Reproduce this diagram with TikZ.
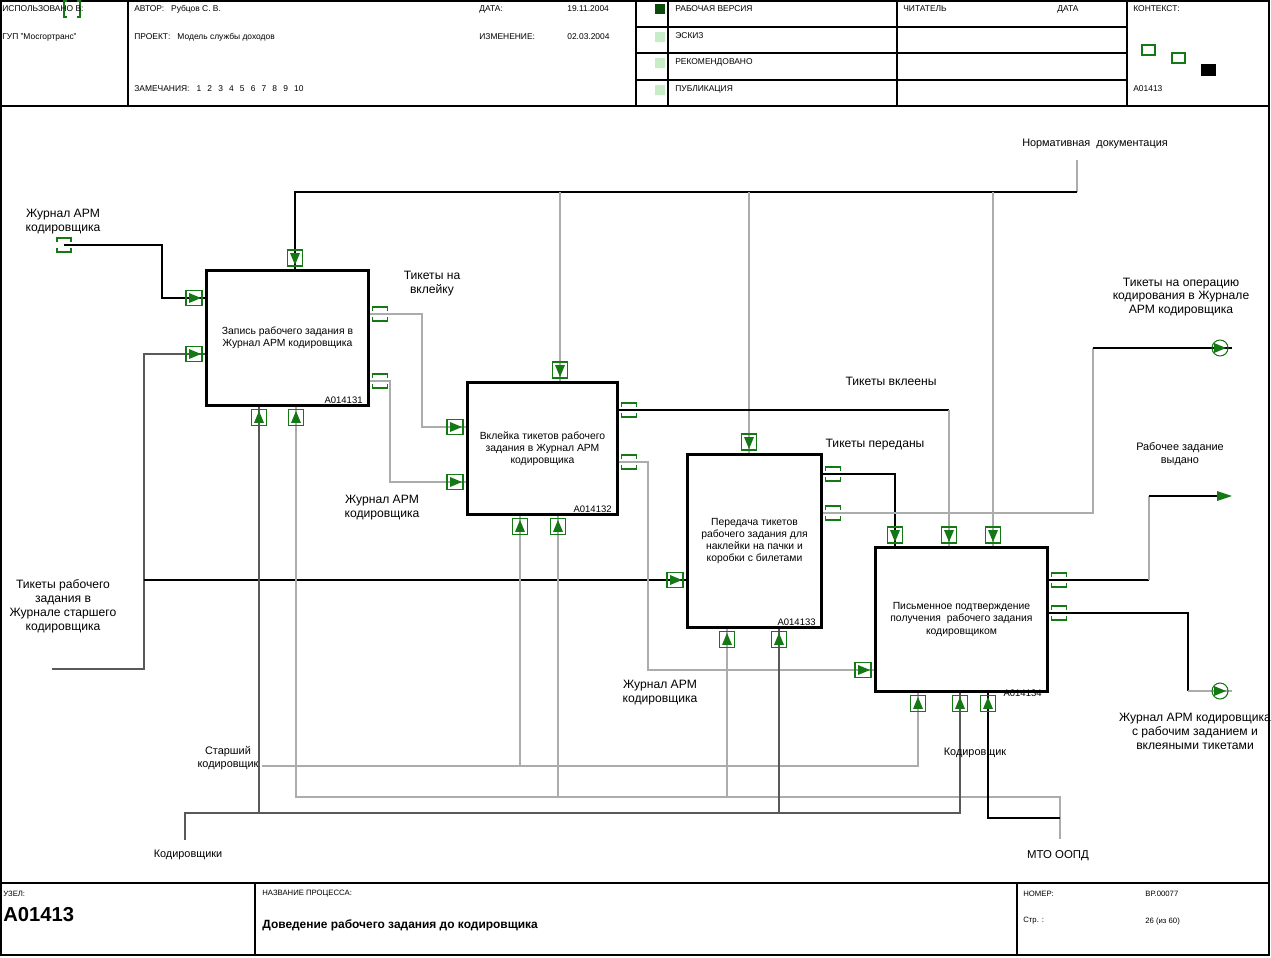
\documentclass[tikz,border=0pt]{standalone}
\usepackage{fontspec}
\setmainfont{Liberation Sans}
\usetikzlibrary{arrows.meta,positioning,backgrounds}
\definecolor{idefgreen}{RGB}{20,120,20}
\definecolor{statdark}{RGB}{10,75,10}
\definecolor{statlight}{RGB}{200,236,200}

\begin{document}
\begin{tikzpicture}[
  x=0.02cm, y=-0.02cm,
  box/.style={draw, line width=1.7pt, align=center, inner sep=0pt, anchor=north west,
    font=\fontsize{5.9}{6.9}\selectfont},
  boxid/.style={inner sep=0pt, font=\fontsize{5.4}{6.8}\selectfont},
  lbl/.style={align=center, inner sep=0pt, font=\fontsize{6.9}{7.9}\selectfont},
  slbl/.style={align=center, inner sep=0pt, font=\fontsize{6.2}{7.4}\selectfont},
  hdr/.style={anchor=west, inner sep=0pt, font=\fontsize{4.8}{5.6}\selectfont},
  ftr/.style={hdr, font=\fontsize{4.4}{5.2}\selectfont},
  frm/.style={line width=1.1pt},
  rule/.style={line width=1.5pt},
  lnk/.style={draw=black, line width=0.6pt},
  lnd/.style={draw=black!65, line width=0.7pt},
  lng/.style={draw=gray!65, line width=0.8pt},
  mk/.style={draw=idefgreen, line width=0.6pt},
  inR/.pic={\draw[mk] (-19,-7.5) rectangle (-3,7.5);
    \fill[idefgreen] (-16,-5) -- (-4,0) -- (-16,5) -- cycle;},
  inD/.pic={\draw[mk] (-7.5,-19) rectangle (7.5,-3);
    \fill[idefgreen] (-5,-16) -- (0,-4) -- (5,-16) -- cycle;},
  inU/.pic={\draw[mk] (-7.5,3) rectangle (7.5,19);
    \fill[idefgreen] (-5,16) -- (0,4) -- (5,16) -- cycle;},
  outR/.pic={\draw[mk] (3,-3) -- (3,-7) -- (18,-7) -- (18,-3) (3,3) -- (3,7) -- (18,7) -- (18,3);},
  tun/.pic={\draw[mk] (-7,-3) -- (-7,-7) -- (7,-7) -- (7,-3) (-7,3) -- (-7,7) -- (7,7) -- (7,3);},
  tunout/.pic={\draw[mk] (-12,0) circle (8);
    \fill[idefgreen] (-18,-5) -- (-6,0) -- (-18,5) -- cycle;}]
\useasboundingbox (0,0) rectangle (1271,957);

% frame, header and footer
\draw[frm] (1,1) rectangle (1269,955);
\draw[rule] (1,106) -- (1269,106) (1,883) -- (1269,883);
\draw[frm] (128,1) -- (128,106) (636,1) -- (636,106) (668,1) -- (668,106)
  (897,1) -- (897,106) (1127,1) -- (1127,106);
\draw[rule] (636,27) -- (1127,27) (636,53) -- (1127,53) (636,80) -- (1127,80);
\draw[frm] (255,883) -- (255,955) (1017,883) -- (1017,955);
\draw[mk] (67,1) -- (64,1) -- (64,17) -- (67,17) (77,1) -- (80,1) -- (80,17) -- (77,17);

\node[hdr] (used) at (2,9) {ИСПОЛЬЗОВАНО В:};
\node[hdr] (org) at (2,37) {ГУП "Мосгортранс"};
\node[hdr] (author) at (134,9) {АВТОР:\hspace{4pt}Рубцов С. В.};
\node[hdr] (project) at (134,37) {ПРОЕКТ:\hspace{4pt}Модель службы доходов};
\node[hdr] (remarks) at (134,89) {ЗАМЕЧАНИЯ:\hspace{4pt}1\hspace{3.5pt}2\hspace{3.5pt}3\hspace{3.5pt}4\hspace{3.5pt}5\hspace{3.5pt}6\hspace{3.5pt}7\hspace{3.5pt}8\hspace{3.5pt}9\hspace{3.5pt}10};
\node[hdr] (date) at (479,9) {ДАТА:};
\node[hdr] (dateval) at (567,9) {19.11.2004};
\node[hdr] (change) at (479,37) {ИЗМЕНЕНИЕ:};
\node[hdr] (changeval) at (567,37) {02.03.2004};
\fill[statdark] (655,4) rectangle (665,14);
\fill[statlight] (655,32) rectangle (665,42) (655,58) rectangle (665,68) (655,85) rectangle (665,95);
\node[hdr] (working) at (675,9) {РАБОЧАЯ ВЕРСИЯ};
\node[hdr] (draft) at (675,36) {ЭСКИЗ};
\node[hdr] (recom) at (675,62) {РЕКОМЕНДОВАНО};
\node[hdr] (publ) at (675,89) {ПУБЛИКАЦИЯ};
\node[hdr] (reader) at (903,9) {ЧИТАТЕЛЬ};
\node[hdr] (rdate) at (1057,9) {ДАТА};
\node[hdr] (context) at (1133,9) {КОНТЕКСТ:};
\node[hdr] (ctxid) at (1133,89) {A01413};
\draw[mk] (1142,45) rectangle (1155,55) (1172,53) rectangle (1185,63);
\fill[black] (1201,64) rectangle (1216,76);

\node[ftr] (nodelbl) at (3,894) {УЗЕЛ:};
\node[anchor=west, inner sep=0pt, font=\bfseries\fontsize{11.5}{13}\selectfont] (nodeid) at (3,915) {A01413};
\node[ftr] (pnamelbl) at (262,894) {НАЗВАНИЕ ПРОЦЕССА:};
\node[anchor=west, inner sep=0pt, font=\bfseries\fontsize{6.8}{8}\selectfont] (pname) at (262,925) {Доведение рабочего задания до кодировщика};
\node[ftr] (numlbl) at (1023,894) {НОМЕР:};
\node[ftr] (numval) at (1145,894) {BP.00077};
\node[ftr] (pagelbl) at (1023,921) {Стр. :};
\node[ftr] (pageval) at (1145,921) {26 (из 60)};

% activity boxes
\node[box, minimum width=3.24cm, minimum height=2.70cm] (a1) at (205,269)
  {Запись рабочего задания в\\Журнал АРМ кодировщика};
\node[box, minimum width=3.00cm, minimum height=2.64cm] (a2) at (466,381)
  {Вклейка тикетов рабочего\\задания в Журнал АРМ\\кодировщика};
\node[box, minimum width=2.68cm, minimum height=3.46cm] (a3) at (686,453)
  {Передача тикетов\\рабочего задания для\\наклейки на пачки и\\коробки с билетами};
\node[box, minimum width=3.44cm, minimum height=2.88cm] (a4) at (874,546)
  {Письменное подтверждение\\получения\ \ рабочего задания\\кодировщиком};
\node[boxid, above left=2pt and 4pt of a1.south east] (a1id) {A014131};
\node[boxid, above left=2pt and 4pt of a2.south east] (a2id) {A014132};
\node[boxid, above left=2pt and 4pt of a3.south east] (a3id) {A014133};
\begin{scope}[on background layer]
\node[boxid, above left=-2pt and 4pt of a4.south east] (a4id) {A014134};
\end{scope}

% bend points
\coordinate (jrn) at (64,245);
\coordinate (j1) at (162,298);
\coordinate (tk) at (52,669);
\coordinate (t1) at (144,354);
\coordinate (t2) at (144,580);
\coordinate (nd) at (1077,160);
\coordinate (n1) at (295,192);
\coordinate (n2) at (560,192);
\coordinate (n3) at (749,192);
\coordinate (n4) at (993,192);
\coordinate (b1) at (422,427);
\coordinate (b2) at (390,482);
\coordinate (b3) at (949,410);
\coordinate (b4) at (648,670);
\coordinate (b5) at (895,474);
\coordinate (b6) at (1093,513);
\coordinate (b7) at (1093,348);
\coordinate (e1) at (1232,348);
\coordinate (b8) at (1149,580);
\coordinate (e2) at (1232,496);
\coordinate (b9) at (1188,613);
\coordinate (e3) at (1232,691);
\coordinate (s0) at (262,766);
\coordinate (s1) at (918,766);
\coordinate (s2) at (520,766);
\coordinate (m0) at (1060,839);
\coordinate (m1) at (1060,797);
\coordinate (m2) at (296,797);
\coordinate (m3) at (558,797);
\coordinate (m4) at (727,797);
\coordinate (m5) at (1060,818);
\coordinate (m6) at (988,818);
\coordinate (k0) at (185,840);
\coordinate (k1) at (185,813);
\coordinate (k2) at (960,813);
\coordinate (k3) at (259,813);
\coordinate (k4) at (779,813);

% inputs and controls
\draw[lnk] (jrn) -| (j1) -- (a1.west |- j1);
\draw[lnd] (tk) -| (t1) -- (a1.west |- t1);
\draw[lnk] (t2) -- (a3.west |- t2);
\draw[lng] (nd) -- (nd |- n1);
\draw[lnk] (nd |- n1) -- (n1) -- (a1.north -| n1);
\draw[lng] (n2) -- (a2.north -| n2);
\draw[lng] (n3) -- (a3.north -| n3);
\draw[lng] (n4) -- (a4.north -| n4);

% outputs
\draw[lng] (a1.east |- 0,314) -| (b1) -- (a2.west |- b1);
\draw[lng] (a1.east |- 0,381) -| (b2) -- (a2.west |- b2);
\draw[lnk] (a2.east |- 0,410) -- (b3);
\draw[lng] (b3) -- (a4.north -| b3);
\draw[lng] (a2.east |- 0,462) -| (b4) -- (a4.west |- b4);
\draw[lnk] (a3.east |- b5) -- (b5) -- (a4.north -| b5);
\draw[lng] (a3.east |- b6) -- (b6) -- (b7);
\draw[lnk] (b7) -- (e1);
\draw[lnk] (a4.east |- b8) -- (b8);
\draw[lng] (b8) -- (b8 |- e2);
\draw[lnk, -{Triangle[length=8.5pt, width=5.5pt, color=idefgreen]}] (b8 |- e2) -- (e2);
\draw[lnk] (a4.east |- b9) -- (b9) -- (b9 |- e3);
\draw[lng] (b9 |- e3) -- (e3);

% mechanisms
\draw[lng] (s0) -- (s1) -- (a4.south -| s1);
\draw[lng] (s2) -- (a2.south -| s2);
\draw[lng] (m0) -- (m1) -- (m2) -- (a1.south -| m2);
\draw[lng] (m3) -- (a2.south -| m3);
\draw[lng] (m4) -- (a3.south -| m4);
\draw[lnk] (m5) -- (m6) -- (a4.south -| m6);
\draw[lnd] (k0) -- (k1) -- (k2) -- (a4.south -| k2);
\draw[lnd] (k3) -- (a1.south -| k3);
\draw[lnd] (k4) -- (a3.south -| k4);

% arrow marks
\pic at (jrn) {tun};
\pic at (a1.west |- j1) {inR};
\pic at (a1.west |- t1) {inR};
\pic at (a3.west |- t2) {inR};
\pic at (a1.north -| n1) {inD};
\pic at (a2.north -| n2) {inD};
\pic at (a3.north -| n3) {inD};
\pic at (a4.north -| n4) {inD};
\pic at (a2.west |- b1) {inR};
\pic at (a2.west |- b2) {inR};
\pic at (a4.north -| b3) {inD};
\pic at (a4.west |- b4) {inR};
\pic at (a4.north -| b5) {inD};
\pic at (a1.east |- 0,314) {outR};
\pic at (a1.east |- 0,381) {outR};
\pic at (a2.east |- 0,410) {outR};
\pic at (a2.east |- 0,462) {outR};
\pic at (a3.east |- b5) {outR};
\pic at (a3.east |- b6) {outR};
\pic at (a4.east |- b8) {outR};
\pic at (a4.east |- b9) {outR};
\pic at (e1) {tunout};
\pic at (e3) {tunout};
\pic at (a4.south -| s1) {inU};
\pic at (a2.south -| s2) {inU};
\pic at (a1.south -| m2) {inU};
\pic at (a2.south -| m3) {inU};
\pic at (a3.south -| m4) {inU};
\pic at (a4.south -| m6) {inU};
\pic at (a4.south -| k2) {inU};
\pic at (a1.south -| k3) {inU};
\pic at (a3.south -| k4) {inU};

% arrow labels
\node[lbl] (ljrn) at (63,222) {Журнал АРМ\\кодировщика};
\node[lbl] (lvkl) at (432,284) {Тикеты на\\вклейку};
\node[lbl] (ljrn2) at (382,508) {Журнал АРМ\\кодировщика};
\node[lbl] (lvkleeny) at (891,381) {Тикеты вклеены};
\node[lbl] (lpered) at (875,445) {Тикеты переданы};
\node[slbl] (lnorm) at (1095,144) {Нормативная\ \ документация};
\node[lbl] (loper) at (1181,297) {Тикеты на операцию\\кодирования в Журнале\\АРМ кодировщика};
\node[slbl] (lvyd) at (1180,454) {Рабочее задание\\выдано};
\node[lbl] (ljrnout) at (1195,731) {Журнал АРМ кодировщика\\с рабочим заданием и\\вклеяными тикетами};
\node[lbl] (ltik) at (63,606) {Тикеты рабочего\\задания в\\Журнале старшего\\кодировщика};
\node[lbl] (ljrn3) at (660,693) {Журнал АРМ\\кодировщика};
\node[slbl] (lstar) at (228,758) {Старший\\кодировщик};
\node[slbl] (lkod) at (975,753) {Кодировщик};
\node[slbl] (lkods) at (188,855) {Кодировщики};
\node[slbl, font=\fontsize{6.5}{7.5}\selectfont] (lmto) at (1058,856) {МТО ООПД};
\end{tikzpicture}
\end{document}
